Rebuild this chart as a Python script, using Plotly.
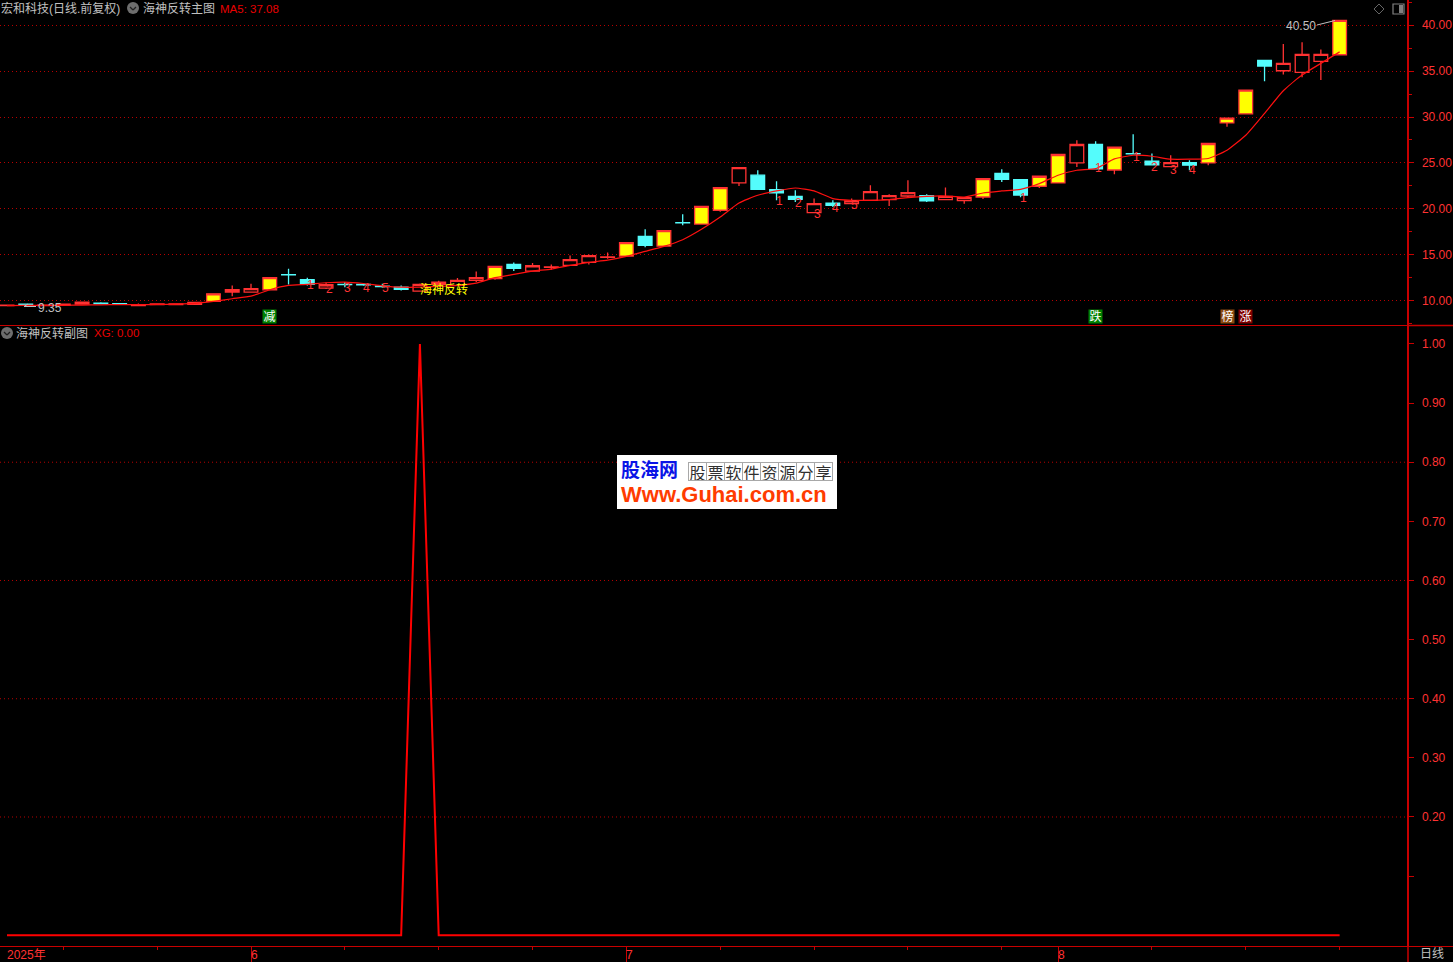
import plotly.graph_objects as go

W, H = 1453, 962
PW, PH = 1407, 946

kinds = list("HCHHHCCHHHHYHHYCCHCCCCHHHHYCHHHHHYCYCYYHCCCHCHHHHCHHYCCYYHCYCCHCYYYCHHHY")
opens = [9.5,9.65,9.5,9.55,9.65,9.75,9.7,9.5,9.6,9.6,9.62,9.95,10.96,10.96,11.22,12.85,12.31,11.39,11.8,11.8,11.6,11.5,11.07,11.8,11.69,12.23,
         12.42,13.97,13.25,13.66,13.87,14.19,14.75,14.88,17.02,15.97,18.52,18.36,19.86,22.83,23.67,22.11,21.38,19.6,20.62,20.58,20.94,21.02,21.41,21.46,21.02,20.91,
         21.3,23.88,23.2,22.47,22.83,25.01,27.01,24.24,26.02,25.19,24.61,25.05,25.01,29.36,30.34,36.16,35.03,34.85,36.05,36.77]
closes = [9.55,9.6,9.55,9.65,9.87,9.7,9.69,9.55,9.68,9.68,9.84,10.78,11.22,11.33,12.53,12.83,11.8,11.76,11.78,11.74,11.55,11.25,11.8,12.05,12.23,12.53,
          13.76,13.54,13.83,13.7,14.49,14.92,14.79,16.34,16.04,17.64,18.5,20.29,22.33,24.5,22.14,21.74,21.05,20.58,20.4,20.87,21.89,21.46,21.78,20.87,21.38,21.24,
          23.31,23.23,21.52,23.56,25.92,27.01,24.35,26.72,25.98,24.79,25.05,24.76,27.12,29.87,32.92,35.54,35.83,36.81,36.81,40.5]
highs = [9.55,9.65,9.55,9.7,9.9,9.85,9.75,9.72,9.72,9.7,9.85,10.78,11.69,11.87,12.53,13.51,12.53,12.01,12.05,11.95,11.87,11.69,11.9,12.2,12.5,13.21,
         13.76,14.19,14.12,13.97,14.95,15.06,15.28,16.34,17.79,17.64,19.42,20.29,22.33,24.5,24.21,23.01,22.03,21.13,20.94,21.13,22.58,21.6,23.12,21.6,22.33,21.24,
         23.31,24.32,23.2,23.56,25.92,27.48,27.37,26.72,28.13,26.03,25.84,25.3,27.12,29.87,32.92,36.16,37.93,38.12,37.35,40.5]
lows = [9.5,9.35,9.5,9.5,9.6,9.68,9.6,9.48,9.58,9.58,9.6,9.95,10.52,10.96,11.22,11.8,11.69,11.3,11.5,11.65,11.44,11.14,11.07,11.75,11.69,12.05,
        12.3,13.25,13.25,13.4,13.87,13.97,14.6,14.88,15.83,15.97,18.22,18.36,19.71,22.5,22.14,20.94,20.76,19.6,20.21,20.51,20.94,20.32,21.27,20.76,21.02,20.58,
        21.09,22.94,21.27,22.28,22.83,24.57,24.35,23.78,25.95,24.79,24.61,24.21,24.76,28.93,30.34,33.9,34.63,34.31,34.01,36.77]
ma5 = [9.5,9.52,9.52,9.53,9.55,9.58,9.6,9.6,9.62,9.66,9.73,9.95,10.24,10.52,11.22,11.69,11.8,11.98,12.05,11.9,11.65,11.5,11.5,11.58,11.69,11.94,
       12.53,12.89,13.25,13.47,13.87,14.19,14.44,14.85,15.39,15.94,16.66,17.79,19.13,20.65,21.49,21.96,22.28,21.96,21.13,20.94,20.94,21.02,21.24,21.38,21.41,21.3,
       21.74,21.96,22.14,22.76,23.67,24.21,24.39,25.44,25.84,25.73,25.41,25.41,25.49,26.39,28.02,30.39,32.85,34.56,35.83,37.08]
xg = [0.0]*72
xg[22] = 1.0
days = list(range(72))

digit_days = [16,17,18,19,20,41,42,43,44,45,54,58,60,61,62,63]
digit_prices = [11.69,11.25,11.36,11.36,11.36,20.84,20.62,19.42,20.07,20.4,21.16,24.43,25.63,24.54,24.21,24.21]
digit_texts = ["1","2","3","4","5","1","2","3","4","5","1","1","1","2","3","4"]

badge_days = [14,58,65,66]
badge_texts = ["减","跌","榜","涨"]
badge_colors = ["#008000","#008000","#8b4a10","#800000"]

month_days = [13,33,56]
month_labels = ["6","7","8"]
minor_days = [3,8,18,23,28,38,43,48,53,61,66,71]
price_ticks = [10,15,20,25,30,35,40]
sub_ticks = [0.2,0.3,0.4,0.5,0.6,0.7,0.8,0.9,1.0]
sub_grid = [0.2,0.4,0.6,0.8]

RED = "#ff3232"
AX = "#c80000"
GRID = "#b80000"
GRAY = "#c0c0c0"
CYAN = "#54fcfc"
TXT = "Liberation Sans, Noto Sans CJK SC"

def xp(x): return x / PW
def yp(y): return 1 - y / PH

fig = go.Figure()

def candle(kind, fill, line):
    idx = [i for i, k in enumerate(kinds) if k == kind]
    fig.add_trace(go.Candlestick(
        x=[days[i] for i in idx], open=[opens[i] for i in idx], high=[highs[i] for i in idx],
        low=[lows[i] for i in idx], close=[closes[i] for i in idx],
        increasing=dict(line=dict(color=line, width=1.3), fillcolor=fill),
        decreasing=dict(line=dict(color=line, width=1.3), fillcolor=fill),
        xaxis="x", yaxis="y", hoverinfo="skip", showlegend=False))

candle("H", "#000000", RED)
candle("Y", "#ffff00", RED)
candle("C", CYAN, CYAN)

fig.add_trace(go.Scatter(x=days, y=ma5, mode="lines", line=dict(color="#ff1010", width=1.2, shape="spline", smoothing=0.5),
                         xaxis="x", yaxis="y", hoverinfo="skip", showlegend=False))
fig.add_trace(go.Scatter(x=days, y=xg, mode="lines", line=dict(color="#ff0000", width=2),
                         xaxis="x2", yaxis="y2", hoverinfo="skip", showlegend=False))

shapes = []
def seg(x0, y0, x1, y1, color=AX, width=1):
    shapes.append(dict(type="line", xref="paper", yref="paper", x0=xp(x0), y0=yp(y0), x1=xp(x1), y1=yp(y1),
                       line=dict(color=color, width=width), layer="above"))

for v in sub_grid:
    shapes.append(dict(type="line", xref="paper", yref="y2", x0=0, x1=1, y0=v, y1=v,
                       line=dict(color=GRID, width=1, dash="1px,3px"), layer="below"))

seg(1407, 325.5, W, 325.5, AX, 1.5)
seg(PW, 946.5, W, 946.5, AX, 1)
seg(1408, 946, 1408, H, AX, 1.5)

for cx, cy in [(133, 8), (7, 333)]:
    shapes.append(dict(type="circle", xref="paper", yref="paper", x0=xp(cx-6), x1=xp(cx+6), y0=yp(cy-6), y1=yp(cy+6),
                       fillcolor="#6e6e6e", line=dict(width=0), layer="above"))
    seg(cx-3, cy-1, cx, cy+2, "#202020", 1.3)
    seg(cx, cy+2, cx+3, cy-1, "#202020", 1.3)
for a in [(1379,4,1384,9),(1384,9,1379,14),(1379,14,1374,9),(1374,9,1379,4)]:
    seg(*a, "#666666", 1)
shapes.append(dict(type="rect", xref="paper", yref="paper", x0=xp(1393), x1=xp(1404), y0=yp(4), y1=yp(14),
                   line=dict(color="#808080", width=1.2), fillcolor="#000000", layer="above"))
shapes.append(dict(type="rect", xref="paper", yref="paper", x0=xp(1399), x1=xp(1403), y0=yp(5), y1=yp(13),
                   line=dict(width=0), fillcolor="#808080", layer="above"))

seg(1317, 25, 1335, 20.5, GRAY, 1)
seg(24, 306.5, 36, 306.5, GRAY, 1)
seg(24, 306.5, 28, 304, GRAY, 1)

shapes.append(dict(type="rect", xref="paper", yref="paper", x0=xp(617), x1=xp(837), y0=yp(455), y1=yp(509),
                   fillcolor="#ffffff", line=dict(width=0), layer="above"))

ann = []
def text(x, y, s, color=GRAY, size=12, anchor="left", font=TXT, **kw):
    ann.append(dict(xref="paper", yref="paper", x=xp(x), y=yp(y), text=s, showarrow=False, xanchor=anchor, yanchor="middle",
                    font=dict(color=color, size=size, family=font), borderpad=0, **kw))

text(0, 9, "宏和科技(日线.前复权)")
text(142, 9, "海神反转主图")
text(219, 9, "MA5: 37.08", "#e80000", 11.5)
text(15, 333.5, "海神反转副图")
text(92.5, 333.5, "XG: 0.00", "#e80000", 11.5)
text(37, 308, "9.35")
text(1285, 26, "40.50")
text(1419, 954, "日线")
text(419, 290, "海神反转", "#ffff00", 12)

for d, p, s in zip(digit_days, digit_prices, digit_texts):
    ann.append(dict(xref="x", yref="y", x=d, y=p, xshift=3, text=s, showarrow=False,
                    font=dict(color=RED, size=12, family=TXT), xanchor="center", yanchor="middle"))
for d, s, c in zip(badge_days, badge_texts, badge_colors):
    ann.append(dict(xref="x", yref="y", x=d, y=8.26, text=s, showarrow=False, bgcolor=c, borderpad=0,
                    font=dict(color="#ffffff", size=12, family=TXT), xanchor="center", yanchor="middle",
                    width=13, height=13))

text(6, 955, "2025年", RED, 12)
for d, s in zip(month_days, month_labels):
    ann.append(dict(xref="x2", yref="paper", x=d, y=yp(955), xshift=-2.5, text=s, showarrow=False,
                    font=dict(color=RED, size=12, family=TXT), xanchor="left", yanchor="middle"))

text(620, 469, "<b>股海网</b>", "#0a14e6", 19, font="Noto Sans CJK SC")
text(620, 494, "<b>Www.Guhai.com.cn</b>", "#ff3c00", 22, font="Liberation Sans")
for i, ch in enumerate("股票软件资源分享"):
    ann.append(dict(xref="paper", yref="paper", x=xp(697 + i*18.1), y=yp(471), text=ch, showarrow=False,
                    font=dict(color="#303030", size=16, family="Noto Sans CJK SC"),
                    width=17, height=17, bordercolor="#a8a8a8", borderwidth=1, borderpad=0,
                    xanchor="center", yanchor="middle"))

fig.update_layout(
    width=W, height=H, autosize=False,
    margin=dict(l=0, r=W-PW, t=0, b=H-PH),
    paper_bgcolor="#000000", plot_bgcolor="#000000",
    boxgap=0.27, boxgroupgap=0, showlegend=False, hovermode=False,
    shapes=shapes, annotations=ann,
    xaxis=dict(domain=[0, 1], anchor="y", range=[-0.373, 74.59], rangeslider=dict(visible=False),
               showgrid=False, zeroline=False, showticklabels=False, ticks="",
               showline=True, linecolor=AX, linewidth=1.5),
    xaxis2=dict(domain=[0, 1], anchor="y2", matches="x", showgrid=False, zeroline=False,
                tickmode="array", tickvals=month_days, ticktext=["", "", ""], ticks="outside", ticklen=16,
                tickcolor=AX, tickwidth=1, showline=True, linecolor=AX, linewidth=1,
                minor=dict(tickmode="array", tickvals=minor_days, ticks="outside", ticklen=3, tickcolor=AX, tickwidth=1)),
    yaxis=dict(domain=[(PH-324.5)/PH, 1], anchor="x", side="right", range=[7.44, 42.72],
               tickmode="array", tickvals=price_ticks, ticktext=[f"{v:.2f}" for v in price_ticks],
               ticks="outside", ticklen=5, tickcolor=AX, tickfont=dict(color=RED, size=12, family="Liberation Sans"),
               ticklabelstandoff=6,
               showgrid=True, gridcolor=GRID, griddash="1px,3px", gridwidth=1, zeroline=False,
               showline=True, linecolor=AX, linewidth=1.5,
               minor=dict(dtick=2.5, ticks="outside", ticklen=3, tickcolor=AX, showgrid=False)),
    yaxis2=dict(domain=[0, (PH-326)/PH], anchor="x2", side="right", range=[-0.0182, 1.0304],
                tickmode="array", tickvals=sub_ticks, ticktext=[f"{v:.2f}" for v in sub_ticks],
                ticks="outside", ticklen=5, tickcolor=AX, tickfont=dict(color=RED, size=12, family="Liberation Sans"),
                ticklabelstandoff=6,
                showgrid=False, zeroline=False, showline=True, linecolor=AX, linewidth=1.5,
                minor=dict(tickmode="array", tickvals=[0.1], ticks="outside", ticklen=5, tickcolor=AX)),
)

fig.write_html("out.html", config=dict(displayModeBar=False, staticPlot=True),
               post_script="document.body.style.margin='0';document.body.style.background='#000';document.documentElement.style.overflow='hidden';")
